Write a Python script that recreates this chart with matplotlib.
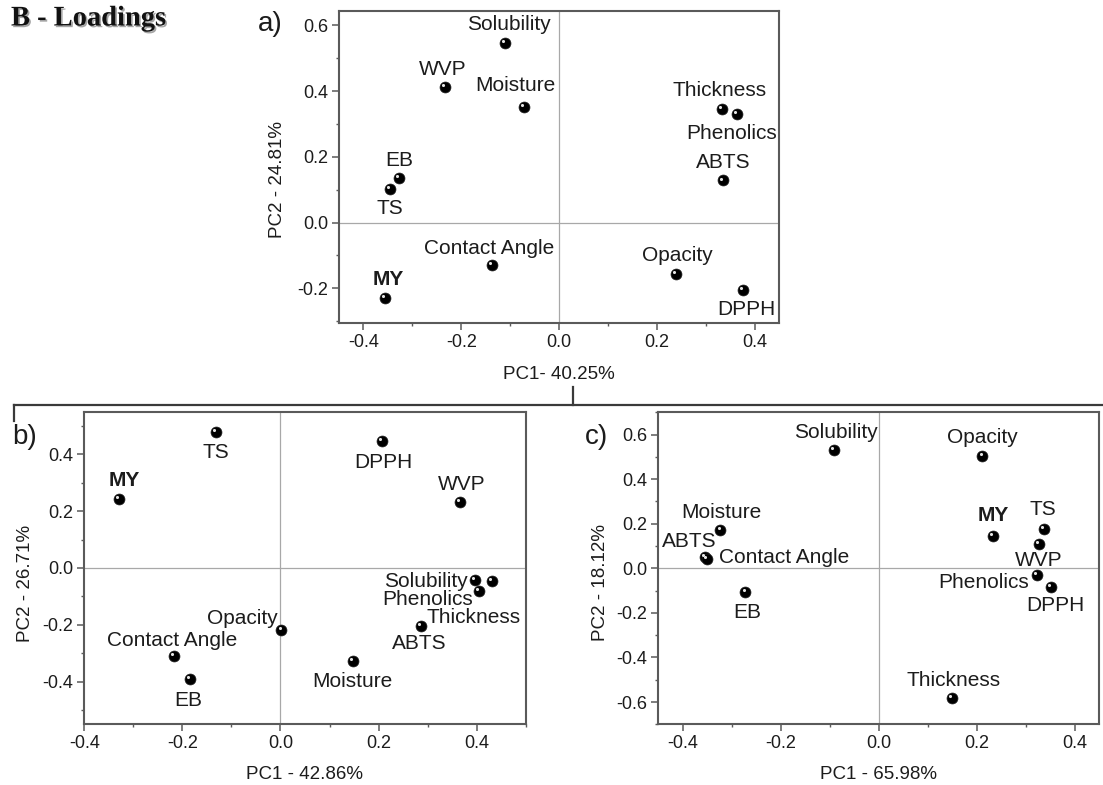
import matplotlib
matplotlib.use("Agg")
import matplotlib.pyplot as plt
import matplotlib.patheffects as pe
from matplotlib.lines import Line2D
from matplotlib.ticker import MultipleLocator, FormatStrFormatter
from matplotlib.transforms import ScaledTranslation

plt.rcParams["font.family"] = ["Liberation Sans", "DejaVu Sans"]

# ---- loadings, panel a ----
a_vars = ["Solubility", "WVP", "Moisture", "EB", "TS", "Contact Angle", "MY",
          "Thickness", "Phenolics", "ABTS", "Opacity", "DPPH"]
a_pc1 = [-0.111, -0.234, -0.072, -0.327, -0.345, -0.138, -0.356,
         0.334, 0.364, 0.335, 0.240, 0.376]
a_pc2 = [0.546, 0.412, 0.351, 0.137, 0.102, -0.130, -0.231,
         0.346, 0.330, 0.128, -0.156, -0.204]
a_xlabel = "PC1- 40.25%"
a_ylabel = "PC2 - 24.81%"

# ---- loadings, panel b ----
b_vars = ["TS", "MY", "DPPH", "WVP", "Solubility", "Phenolics", "Thickness",
          "ABTS", "Opacity", "Contact Angle", "EB", "Moisture"]
b_pc1 = [-0.131, -0.330, 0.207, 0.366, 0.397, 0.404, 0.431,
         0.286, 0.002, -0.217, -0.185, 0.148]
b_pc2 = [0.479, 0.244, 0.446, 0.232, -0.041, -0.081, -0.046,
         -0.205, -0.219, -0.310, -0.392, -0.328]
b_xlabel = "PC1 - 42.86%"
b_ylabel = "PC2 - 26.71%"

# ---- loadings, panel c ----
c_vars = ["Solubility", "Opacity", "Moisture", "ABTS", "Contact Angle", "EB",
          "MY", "TS", "WVP", "Phenolics", "DPPH", "Thickness"]
c_pc1 = [-0.092, 0.212, -0.323, -0.355, -0.351, -0.272,
         0.233, 0.337, 0.327, 0.323, 0.352, 0.150]
c_pc2 = [0.533, 0.503, 0.172, 0.050, 0.042, -0.105,
         0.147, 0.177, 0.109, -0.030, -0.085, -0.583]
c_xlabel = "PC1 - 65.98%"
c_ylabel = "PC2 - 18.12%"

# label placement: (dx px, dy px, horizontal alignment)
a_lab = {"Solubility": (4, 19, "center"), "WVP": (-2, 18, "center"),
         "Moisture": (-8, 22, "center"), "EB": (0, 17, "center"),
         "TS": (0, -19, "center"), "Contact Angle": (-2, 17, "center"),
         "MY": (3, 19, "center"), "Thickness": (-3, 18, "center"),
         "Phenolics": (-5, -19, "center"), "ABTS": (0, 18, "center"),
         "Opacity": (1, 18, "center"), "DPPH": (4, -20, "center")}
b_lab = {"TS": (0, -21, "center"), "MY": (6, 18, "center"),
         "DPPH": (1, -21, "center"), "WVP": (2, 18, "center"),
         "Solubility": (-7, -2, "right"), "Phenolics": (-6, -8, "right"),
         "Thickness": (-18, -36, "center"), "ABTS": (-1, -17, "center"),
         "Opacity": (-4, 12, "right"), "Contact Angle": (-2, 16, "center"),
         "EB": (-1, -21, "center"), "Moisture": (-1, -20, "center")}
c_lab = {"Solubility": (2, 17, "center"), "Opacity": (0, 19, "center"),
         "Moisture": (1, 17, "center"), "ABTS": (-16, 16, "center"),
         "Contact Angle": (12, 1, "left"), "EB": (2, -21, "center"),
         "MY": (1, 20, "center"), "TS": (-1, 19, "center"),
         "WVP": (0, -16, "center"), "Phenolics": (-8, -8, "right"),
         "DPPH": (4, -18, "center"), "Thickness": (1, 18, "center")}

W, H = 1103, 785
fig = plt.figure(figsize=(W / 100, H / 100), dpi=100)

TXT = "#1c1c1c"
FRAME = "#5a5a5a"
PX = 0.72  # points per pixel at 100 dpi


def box(left, top, right, bottom):
    return [left / W, 1 - bottom / H, (right - left) / W, (bottom - top) / H]


def panel(rect, pc1, pc2, names, labs, xlim, ylim, xmaj, ymaj,
          xlabel, ylabel, xlab_y, ylab_xy, letter, letter_xy):
    ax = fig.add_axes(rect)
    ax.set_xlim(*xlim)
    ax.set_ylim(*ylim)
    ax.axhline(0, color="#a8a8a8", lw=0.9, zorder=1)
    ax.axvline(0, color="#a8a8a8", lw=0.9, zorder=1)
    ax.scatter(pc1, pc2, s=62, color="black", edgecolors="#202020",
               linewidths=0.5, zorder=3)
    shine = ax.transData + ScaledTranslation(-1.4 / 72, 1.4 / 72, fig.dpi_scale_trans)
    ax.scatter(pc1, pc2, s=5, color="#e6e6e6", linewidths=0, zorder=4,
               transform=shine)
    for x, y, name in zip(pc1, pc2, names):
        dx, dy, ha = labs[name]
        ax.annotate(name, (x, y), xytext=(dx * PX, dy * PX),
                    textcoords="offset points", ha=ha, va="center",
                    fontsize=15, color=TXT,
                    fontweight="bold" if name == "MY" else "normal",
                    zorder=5)
    ax.xaxis.set_major_locator(MultipleLocator(xmaj))
    ax.xaxis.set_minor_locator(MultipleLocator(xmaj / 2))
    ax.yaxis.set_major_locator(MultipleLocator(ymaj))
    ax.yaxis.set_minor_locator(MultipleLocator(ymaj / 2))
    ax.xaxis.set_major_formatter(FormatStrFormatter("%.1f"))
    ax.yaxis.set_major_formatter(FormatStrFormatter("%.1f"))
    ax.tick_params(which="both", direction="out", colors=FRAME,
                   labelcolor=TXT, labelsize=13, top=False, right=False)
    ax.tick_params(which="major", length=5, width=1.1, pad=3)
    ax.tick_params(which="minor", length=2.5, width=1.0)
    for s in ax.spines.values():
        s.set_color(FRAME)
        s.set_linewidth(1.5)
    ax.set_xlabel(xlabel, fontsize=13.5, color=TXT)
    ax.set_ylabel(ylabel, fontsize=13.5, color=TXT)
    ax.xaxis.set_label_coords(0.5, xlab_y)
    ax.yaxis.set_label_coords(*ylab_xy)
    fig.text(letter_xy[0] / W, 1 - letter_xy[1] / H, letter, fontsize=20,
             color=TXT, ha="left", va="center")
    return ax


panel(box(339, 10.7, 779, 322.7), a_pc1, a_pc2, a_vars, a_lab,
      (-0.45, 0.45), (-0.305, 0.645), 0.2, 0.2,
      a_xlabel, a_ylabel, -0.138, (-0.121, 0.46), "a)", (258, 24))
panel(box(84.3, 411.7, 525.7, 724.3), b_pc1, b_pc2, b_vars, b_lab,
      (-0.4, 0.5), (-0.55, 0.55), 0.2, 0.2,
      b_xlabel, b_ylabel, -0.133, (-0.114, 0.452), "b)", (12, 437))
panel(box(658.3, 412.3, 1099, 724.3), c_pc1, c_pc2, c_vars, c_lab,
      (-0.45, 0.45), (-0.7, 0.7), 0.2, 0.2,
      c_xlabel, c_ylabel, -0.133, (-0.112, 0.456), "c)", (585, 437))

# connector bracket from panel a down to panels b and c
LINE = "#3a3a3a"
yb = 1 - 404.5 / H
fig.add_artist(Line2D([14 / W, 1.0], [yb, yb], color=LINE, lw=1.6))
fig.add_artist(Line2D([14 / W, 14 / W], [yb, 1 - 421 / H], color=LINE, lw=1.6))
fig.add_artist(Line2D([572.7 / W, 572.7 / W], [1 - 387 / H, yb], color=LINE, lw=1.6))

fig.text(11 / W, 1 - 19 / H, "B - Loadings", fontsize=20.5, fontweight="bold",
         family=["Liberation Serif", "DejaVu Serif"], color="#111111",
         ha="left", va="center",
         path_effects=[pe.withSimplePatchShadow(offset=(1.2, -1.2),
                                                shadow_rgbFace="#6a6a6a",
                                                alpha=0.6)])

fig.savefig("out.png", dpi=100)
